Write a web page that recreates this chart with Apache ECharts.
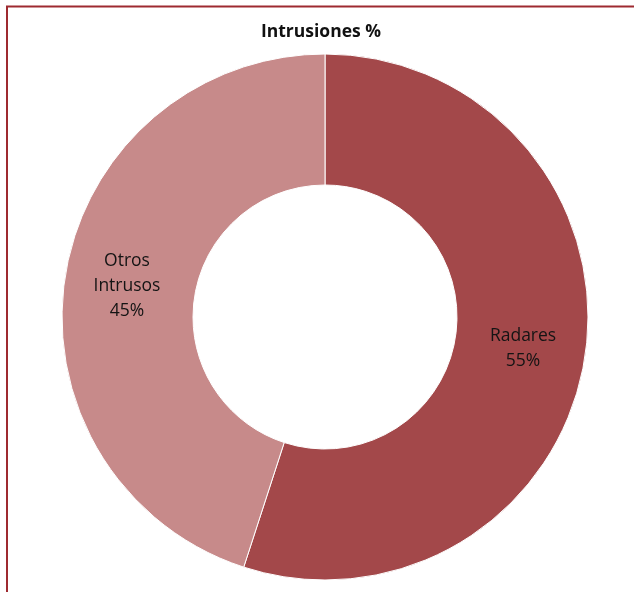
<!DOCTYPE html>
<html>
<head>
<meta charset="utf-8">
<script src="https://cdn.jsdelivr.net/npm/echarts@6/dist/echarts.min.js"></script>
<style>
  html, body { margin: 0; padding: 0; background: #ffffff; }
  #chart { width: 634px; height: 592px; }
</style>
</head>
<body>
<div id="chart"></div>
<script>
// Share of intrusions by source
const categories = ['Radares', 'Otros\nIntrusos'];
const shares = [55, 45];
const sliceColors = ['#a3484a', '#c78a8a'];

const chart = echarts.init(document.getElementById('chart'), null, { renderer: 'canvas' });

chart.setOption({
  backgroundColor: '#ffffff',
  animation: false,
  title: {
    text: 'Intrusiones %',
    left: 316,
    top: 18,
    textAlign: 'center',
    textStyle: {
      fontFamily: 'Open Sans',
      fontWeight: 'bold',
      fontSize: 17.5,
      color: '#111111'
    }
  },
  graphic: [
    {
      type: 'polyline',
      shape: { points: [[7, 592], [7, 6.5], [634, 6.5]] },
      style: { stroke: '#9e2a30', lineWidth: 2, fill: null }
    }
  ],
  series: [{
    type: 'pie',
    center: [325, 317],
    radius: [132, 263],
    startAngle: 90,
    clockwise: true,
    avoidLabelOverlap: false,
    itemStyle: { borderColor: '#ffffff', borderWidth: 1 },
    label: {
      show: true,
      position: 'inside',
      formatter: '{b}\n{c}%',
      fontFamily: 'Open Sans',
      fontSize: 17.5,
      lineHeight: 25,
      color: '#141414'
    },
    labelLine: { show: false },
    emphasis: { disabled: true },
    data: categories.map((name, i) => ({
      name: name,
      value: shares[i],
      itemStyle: { color: sliceColors[i] }
    }))
  }]
});
</script>
</body>
</html>
